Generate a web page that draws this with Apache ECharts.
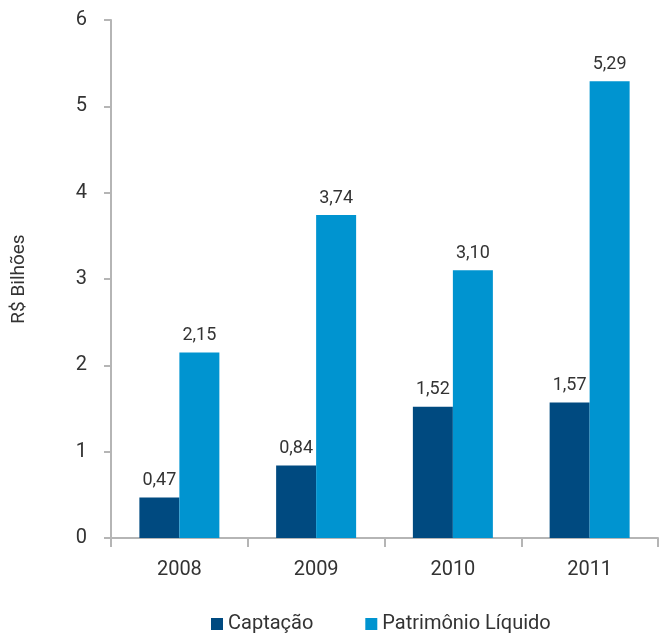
<!DOCTYPE html>
<html>
<head>
<meta charset="utf-8">
<script src="https://cdn.jsdelivr.net/npm/echarts@6/dist/echarts.min.js"></script>
<style>
  html, body { margin: 0; padding: 0; background: #fff; }
  #chart { width: 667px; height: 639px; }
</style>
</head>
<body>
<div id="chart"></div>
<script>
// chart data
var years = ['2008', '2009', '2010', '2011'];
var captacao = [0.47, 0.84, 1.52, 1.57];
var patrimonio = [2.15, 3.74, 3.10, 5.29];
var seriesNames = ['Captação', 'Patrimônio Líquido'];

var textColor = '#333333';
var axisColor = '#b5b5b5';
var fontFamily = 'Roboto, "Open Sans", sans-serif';

var labelFormatter = function(p) {
  return p.value.toFixed(2).replace('.', ',');
};

var chart = echarts.init(document.getElementById('chart'));

chart.setOption({
  animation: false,
  textStyle: { fontFamily: fontFamily, color: textColor },
  grid: {
    left: 111,
    right: 9,
    top: 20,
    bottom: 101
  },
  legend: {
    left: 206,
    bottom: 0,
    itemWidth: 12,
    itemHeight: 12,
    itemGap: 52,
    icon: 'rect',
    textStyle: { fontSize: 20, color: textColor, fontFamily: fontFamily },
    data: seriesNames
  },
  xAxis: {
    type: 'category',
    data: years,
    axisLine: { lineStyle: { color: axisColor, width: 2 } },
    axisTick: { show: true, length: 9, lineStyle: { color: axisColor, width: 2 } },
    axisLabel: { fontSize: 20, color: textColor, margin: 22 }
  },
  yAxis: {
    type: 'value',
    min: 0,
    max: 6,
    interval: 1,
    name: 'R$ Bilhões',
    nameLocation: 'middle',
    nameGap: 82,
    nameRotate: 90,
    nameTextStyle: { fontSize: 19, color: textColor },
    axisLine: { show: true, lineStyle: { color: axisColor, width: 2 } },
    axisTick: { show: true, length: 7, lineStyle: { color: axisColor, width: 2 } },
    axisLabel: { fontSize: 20, color: textColor, margin: 24 },
    splitLine: { show: false }
  },
  series: [
    {
      name: seriesNames[0],
      type: 'bar',
      data: captacao,
      barWidth: 40,
      barGap: '0%',
      itemStyle: { color: '#004a80' },
      label: {
        show: true,
        position: 'top',
        distance: 8,
        fontSize: 18,
        color: textColor,
        formatter: labelFormatter
      }
    },
    {
      name: seriesNames[1],
      type: 'bar',
      data: patrimonio,
      barWidth: 40,
      barGap: '0%',
      itemStyle: { color: '#0094d0' },
      label: {
        show: true,
        position: 'top',
        distance: 8,
        fontSize: 18,
        color: textColor,
        formatter: labelFormatter
      }
    }
  ]
});
</script>
</body>
</html>
